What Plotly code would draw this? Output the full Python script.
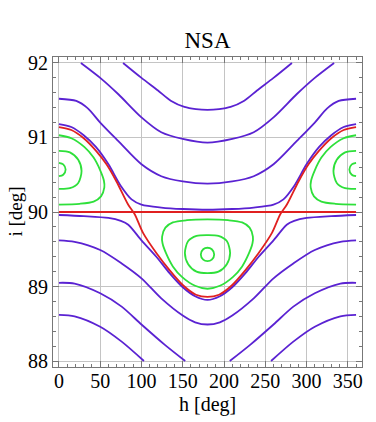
import plotly.graph_objects as go

# ---- data (h in deg, i in deg) ----
# blue (purple) level curves, upper family
u1_h = [77.7, 100, 120, 136, 152, 166, 180, 194, 208, 224, 240, 260, 282.3]
u1_i = [92.0, 91.80, 91.63, 91.49, 91.41, 91.38, 91.37, 91.38, 91.41, 91.49, 91.63, 91.80, 92.0]

u2_h = [26.6, 50, 72, 100, 124, 150, 180, 210, 236, 260, 288, 310, 333.4]
u2_i = [92.0, 91.80, 91.58, 91.27, 91.07, 90.98, 90.93, 90.98, 91.07, 91.27, 91.58, 91.80, 92.0]

u3_h = [0, 21, 35, 50, 72, 100, 124, 150, 180, 210, 236, 260, 288, 310, 325, 339, 360]
u3_i = [91.52, 91.49, 91.39, 91.20, 90.95, 90.64, 90.48, 90.41, 90.38, 90.41, 90.48, 90.64, 90.95, 91.20, 91.39, 91.49, 91.52]

u4_h = [0, 15, 30, 45, 60, 75, 88, 100, 124, 150, 180, 210, 236, 260, 272, 285, 300, 315, 330, 345, 360]
u4_i = [91.18, 91.14, 91.03, 90.87, 90.64, 90.35, 90.17, 90.10, 90.06, 90.04, 90.03, 90.04, 90.06, 90.10, 90.17, 90.35, 90.64, 90.87, 91.03, 91.14, 91.18]

# blue level curves, lower family
l1_h = [0, 30, 60, 75, 84, 100, 118, 134, 150, 165, 180, 195, 210, 226, 242, 260, 276, 285, 300, 330, 360]
l1_i = [89.96, 89.945, 89.92, 89.88, 89.83, 89.62, 89.40, 89.18, 88.99, 88.87, 88.82, 88.87, 88.99, 89.18, 89.40, 89.62, 89.83, 89.88, 89.92, 89.945, 89.96]

l2_h = [0, 19, 50, 76, 100, 124, 150, 165, 180, 195, 210, 236, 260, 284, 310, 341, 360]
l2_i = [89.62, 89.60, 89.49, 89.31, 89.11, 88.84, 88.61, 88.52, 88.49, 88.52, 88.61, 88.84, 89.11, 89.31, 89.49, 89.60, 89.62]

l3_h = [0, 19, 50, 76, 100, 128, 153, None, 207, 232, 260, 284, 310, 341, 360]
l3_i = [89.05, 89.04, 88.91, 88.73, 88.49, 88.22, 88.0, None, 88.0, 88.22, 88.49, 88.73, 88.91, 89.04, 89.05]

l4_h = [0, 19, 50, 76, 103, None, 257, 284, 310, 341, 360]
l4_i = [88.62, 88.60, 88.46, 88.26, 88.0, None, 88.0, 88.26, 88.46, 88.60, 88.62]

# red separatrix and red line
sep_h = [0, 15, 30, 45, 57.6, 69.7, 83.8, 91.8, 101.9, 118, 134, 150, 166, 180,
         194, 210, 226, 242, 258.1, 268.2, 276.2, 290.3, 302.4, 315, 330, 345, 360]
sep_i = [91.14, 91.10, 90.99, 90.82, 90.64, 90.41, 90.10, 89.97, 89.72, 89.45, 89.22, 89.02, 88.89, 88.86,
         88.89, 89.02, 89.22, 89.45, 89.72, 89.97, 90.10, 90.41, 90.64, 90.82, 90.99, 91.10, 91.14]
eq_h = [0, 360]
eq_i = [90.0, 90.0]

# green islands around h = 0 / 360
go1l_h = [0, 15, 31, 42, 50, 54.5, 55, 51, 42, 25, 0]
go1l_i = [91.03, 90.99, 90.87, 90.73, 90.56, 90.42, 90.33, 90.21, 90.14, 90.11, 90.10]
go1r_h = [360, 345, 329, 318, 310, 305.5, 305, 309, 318, 335, 360]
go1r_i = [91.03, 90.99, 90.87, 90.73, 90.56, 90.42, 90.33, 90.21, 90.14, 90.11, 90.10]

go2l_h = [0, 13.3, 23.4, 27.4, 23.4, 13.3, 0]
go2l_i = [90.82, 90.80, 90.70, 90.55, 90.39, 90.32, 90.31]
go2r_h = [360, 346.7, 336.6, 332.6, 336.6, 346.7, 360]
go2r_i = [90.82, 90.80, 90.70, 90.55, 90.39, 90.32, 90.31]

go3l_h = [0, 5.2, 8.1, 5.2, 0]
go3l_i = [90.66, 90.64, 90.57, 90.50, 90.48]
go3r_h = [360, 354.8, 351.9, 354.8, 360]
go3r_i = [90.66, 90.64, 90.57, 90.50, 90.48]

# green island around h = 180
gc1_h = [180, 155, 138, 129, 125, 125.5, 130, 138, 149, 165, 180, 195, 211, 222, 230, 234.5, 235, 231, 222, 205, 180]
gc1_i = [89.90, 89.89, 89.86, 89.79, 89.67, 89.58, 89.44, 89.27, 89.13, 89.01, 88.97, 89.01, 89.13, 89.27, 89.44, 89.58, 89.67, 89.79, 89.86, 89.89, 89.90]
gc2_h = [180, 166.7, 156.6, 152.6, 156.6, 166.7, 180, 193.3, 203.4, 207.4, 203.4, 193.3, 180]
gc2_i = [89.69, 89.68, 89.61, 89.45, 89.30, 89.20, 89.18, 89.20, 89.30, 89.45, 89.61, 89.68, 89.69]
gc3_h = [180, 174.8, 171.9, 174.8, 180, 185.2, 188.1, 185.2, 180]
gc3_i = [89.52, 89.50, 89.43, 89.36, 89.34, 89.36, 89.43, 89.50, 89.52]

x_ticks = [0, 50, 100, 150, 200, 250, 300, 350]
y_ticks = [88, 89, 90, 91, 92]

BLUE = "#5a22d2"
GREEN = "#2ee03a"
RED = "#e02020"

fig = go.Figure()

def add(h, i, color, width=1.8):
    fig.add_trace(go.Scatter(x=h, y=i, mode="lines",
                             line=dict(color=color, width=width, shape="spline", smoothing=0.8),
                             showlegend=False, hoverinfo="skip", connectgaps=False))

for h, i in [(u1_h, u1_i), (u2_h, u2_i), (u3_h, u3_i), (u4_h, u4_i),
             (l1_h, l1_i), (l2_h, l2_i), (l3_h, l3_i), (l4_h, l4_i)]:
    add(h, i, BLUE)
for h, i in [(go1l_h, go1l_i), (go1r_h, go1r_i), (go2l_h, go2l_i), (go2r_h, go2r_i),
             (go3l_h, go3l_i), (go3r_h, go3r_i), (gc1_h, gc1_i), (gc2_h, gc2_i), (gc3_h, gc3_i)]:
    add(h, i, GREEN)
add(sep_h, sep_i, RED)
fig.add_trace(go.Scatter(x=eq_h, y=eq_i, mode="lines", line=dict(color=RED, width=1.8),
                         showlegend=False, hoverinfo="skip"))

FONT = "Liberation Serif"
axis_common = dict(
    showgrid=True, gridcolor="#c4c4c4", gridwidth=1,
    showline=True, linecolor="#777777", linewidth=1, mirror="allticks",
    ticks="inside", ticklen=6, tickcolor="#777777", tickwidth=1,
    zeroline=False, automargin=False,
    tickfont=dict(family=FONT, size=20, color="black"),
)

W, H = 376, 422
fig.update_layout(
    width=W, height=H,
    margin=dict(l=53, r=14, t=57, b=55, autoexpand=False),
    paper_bgcolor="white", plot_bgcolor="white",
    title=dict(text="NSA", x=207.5 / W, xanchor="center", y=1 - 40 / H, yanchor="middle",
               font=dict(family=FONT, size=23, color="black")),
    xaxis=dict(range=[-7.2, 367.2], tickvals=x_ticks, ticklabelstandoff=-4,
               minor=dict(dtick=10, ticks="inside", ticklen=3, tickcolor="#777777", showgrid=False),
               **axis_common),
    yaxis=dict(range=[87.92, 92.08], tickvals=y_ticks, ticklabelstandoff=0,
               minor=dict(dtick=0.2, ticks="inside", ticklen=3, tickcolor="#777777", showgrid=False),
               **axis_common),
    annotations=[
        dict(text="h [deg]", xref="paper", yref="paper", x=0.5, y=-37 / 310,
             xanchor="center", yanchor="middle", showarrow=False,
             font=dict(family=FONT, size=20, color="black")),
        dict(text="i [deg]", xref="paper", yref="paper", x=-38.5 / 309, y=0.5, textangle=-90,
             xanchor="center", yanchor="middle", showarrow=False,
             font=dict(family=FONT, size=19, color="black")),
    ],
)

# remove the browser's default 8 px page margin so the figure fills the window exactly
fig.write_html("out.html", config={"displayModeBar": False},
               post_script="document.body.style.margin='0';")
